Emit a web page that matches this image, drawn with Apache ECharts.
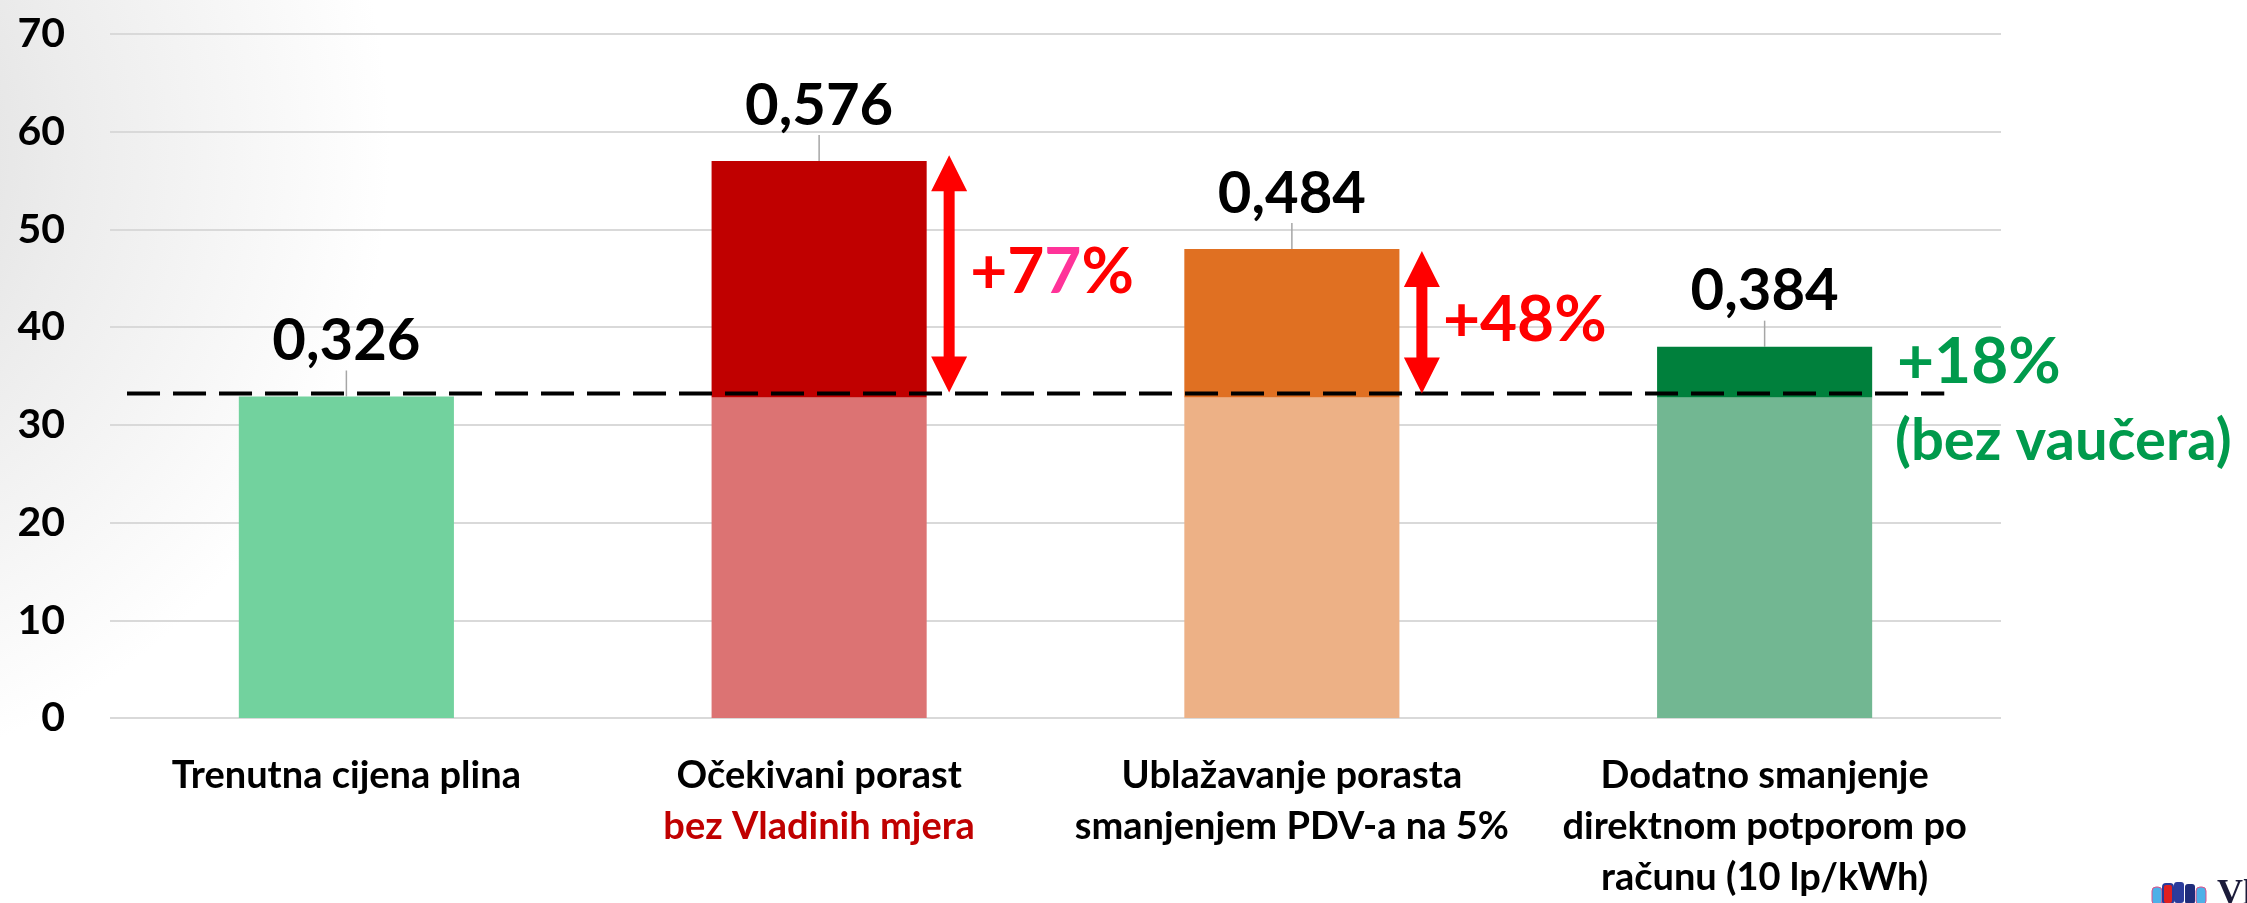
<!DOCTYPE html>
<html><head><meta charset="utf-8">
<script src="https://cdn.jsdelivr.net/npm/echarts@6/dist/echarts.min.js"></script>
<style>html,body{margin:0;padding:0;background:#fff}#c{width:2247px;height:903px}</style>
</head><body><div id="c"></div>
<script>
// ---- data ----
const categories = [
  'Trenutna cijena plina',
  'Očekivani porast\nbez Vladinih mjera',
  'Ublažavanje porasta\nsmanjenjem PDV-a na 5%',
  'Dodatno smanjenje\ndirektnom potporom po\nračunu (10 lp/kWh)'
];
const lowerValues = [32.9, 32.8, 32.8, 32.8];   // part of bar up to today's price
const upperValues = [0, 24.2, 15.2, 5.2];        // increase above today's price
const priceLabels = ['0,326', '0,576', '0,484', '0,384'];
const referenceLevel = 33.2;                     // dashed line level
const arrowCategory = [1, 2];                    // categories with arrows
const arrowTop = [57.6, 47.8];
const arrowBottom = [33.3, 33.2];
const arrowTexts = ['+77%', '+48%'];
const greenNoteTop = '+18%';
const greenNoteBottom = '(bez vaučera)';
const yTicks = [0, 10, 20, 30, 40, 50, 60, 70];

const lowerColors = ['#72D29E', '#DC7373', '#EDB186', '#72B792'];
const upperColors = ['#00B050', '#C00000', '#E07022', '#00803C'];

const FONT = 'Lato, "Open Sans", sans-serif';

const chart = echarts.init(document.getElementById('c'), null, {renderer: 'canvas'});

const option = {
  animation: false,
  backgroundColor: '#ffffff',
  grid: {left: 110, right: 246, top: 34, bottom: 176, containLabel: false},
  xAxis: [{
    type: 'category',
    data: categories,
    axisLine: {show: false},
    axisTick: {show: false},
    axisLabel: {
      interval: 0,
      margin: 32,
      color: '#000',
      fontFamily: FONT,
      fontWeight: 'bold',
      fontSize: 38,
      lineHeight: 51,
      formatter: function (v, i) {
        if (i === 1) {
          const parts = v.split('\n');
          return parts[0] + '\n{red|' + parts[1] + '}';
        }
        return v;
      },
      rich: {
        red: {color: '#C00000', fontFamily: FONT, fontWeight: 'bold', fontSize: 38, lineHeight: 51}
      }
    }
  }, {
    type: 'value', min: 0, max: 4, show: false
  }],
  yAxis: {
    type: 'value', min: yTicks[0], max: yTicks[yTicks.length - 1], interval: 10,
    axisLine: {show: false}, axisTick: {show: false},
    axisLabel: {color: '#000', fontFamily: FONT, fontWeight: 'bold', fontSize: 41, margin: 45},
    splitLine: {lineStyle: {color: '#D9D9D9', width: 2}}
  },
  graphic: [
    {
      type: 'rect', z: -100, silent: true,
      shape: {x: 0, y: 0, width: 2247, height: 903},
      style: {fill: new echarts.graphic.RadialGradient(-250, 150, 640, [
        {offset: 0, color: '#d6d6d6'},
        {offset: 0.5, color: '#ececec'},
        {offset: 1, color: '#ffffff'}
      ], true)}
    },
    {
      type: 'text', left: 1897, top: 330, z: 100,
      style: {text: greenNoteTop, fill: '#009A4C', font: 'bold 64px ' + FONT}
    },
    {
      type: 'text', left: 1895, top: 412, z: 100,
      style: {text: greenNoteBottom, fill: '#009A4C', font: 'bold 58px ' + FONT}
    },
    {
      type: 'group', x: 2152, y: 882, z: 100,
      children: [
        {type: 'rect', shape: {x: 0, y: 5, width: 10, height: 18, r: 4}, style: {fill: '#4DB0E8', stroke: '#E0508A', lineWidth: 1}},
        {type: 'rect', shape: {x: 11, y: 2, width: 10, height: 20, r: 3}, style: {fill: '#E02020', stroke: '#2A3A9A', lineWidth: 2}},
        {type: 'rect', shape: {x: 22, y: 0, width: 10, height: 21, r: 3}, style: {fill: '#2B3C9C'}},
        {type: 'rect', shape: {x: 33, y: 2, width: 10, height: 20, r: 3}, style: {fill: '#1E2C7A'}},
        {type: 'rect', shape: {x: 44, y: 5, width: 10, height: 18, r: 4}, style: {fill: '#4DB0E8', stroke: '#E0508A', lineWidth: 1}},
        {type: 'text', x: 65, y: -5, style: {text: 'Vla', fill: '#1B1B3A', font: 'bold 36px "Liberation Serif", "DejaVu Serif", serif'}}
      ]
    }
  ],
  series: [
    {
      type: 'bar', stack: 'price', barWidth: '45.5%', z: 2,
      data: lowerValues.map((v, i) => ({value: v, itemStyle: {color: lowerColors[i]}}))
    },
    {
      type: 'bar', stack: 'price', barWidth: '45.5%', z: 2,
      data: upperValues.map((v, i) => ({value: v, itemStyle: {color: upperColors[i]}})),
      label: {
        show: true, position: 'top', distance: 6,
        formatter: p => priceLabels[p.dataIndex],
        color: '#000', fontFamily: FONT, fontWeight: 'bold', fontSize: 58
      },
      labelLayout: {dy: -20},
      labelLine: {show: true, lineStyle: {color: '#A6A6A6', width: 1.5}}
    },
    {
      type: 'line', xAxisIndex: 1, z: 5, symbol: 'none', silent: true,
      data: [[0.036, referenceLevel], [3.88, referenceLevel]],
      lineStyle: {color: '#000', width: 4, type: [33, 13]}
    },
    {
      type: 'custom', xAxisIndex: 1, z: 6, silent: true,
      data: arrowCategory.map((c, i) => [c + 0.775, arrowBottom[i], arrowTop[i], i]),
      renderItem: function (params, api) {
        const x = api.value(0);
        const pTop = api.coord([x, api.value(2)]);
        const pBot = api.coord([x, api.value(1)]);
        const cx = pTop[0], t = pTop[1], b = pBot[1];
        const hw = 18, hl = 36, sw = 5.5;
        const pts = [[cx, t], [cx + hw, t + hl], [cx + sw, t + hl], [cx + sw, b - hl], [cx + hw, b - hl],
          [cx, b], [cx - hw, b - hl], [cx - sw, b - hl], [cx - sw, t + hl], [cx - hw, t + hl]];
        const idx = api.value(3);
        const txt = arrowTexts[idx];
        const text = idx === 0 ? '{r|+7}{p|7}{r|%}' : '{r|' + txt + '}';
        const rich = {
          r: {fill: '#FF0000', font: 'bold 64px ' + FONT},
          p: {fill: '#FF3399', font: 'bold 64px ' + FONT}
        };
        return {
          type: 'group',
          children: [
            {type: 'polygon', shape: {points: pts}, style: {fill: '#FF0000'}},
            {type: 'text', x: cx + 21, y: (t + b) / 2 - 2,
              style: {text: text, rich: rich, font: 'bold 64px ' + FONT, fill: '#FF0000', align: 'left', verticalAlign: 'middle'}}
          ]
        };
      }
    }
  ]
};
chart.setOption(option);
</script>
</body></html>
